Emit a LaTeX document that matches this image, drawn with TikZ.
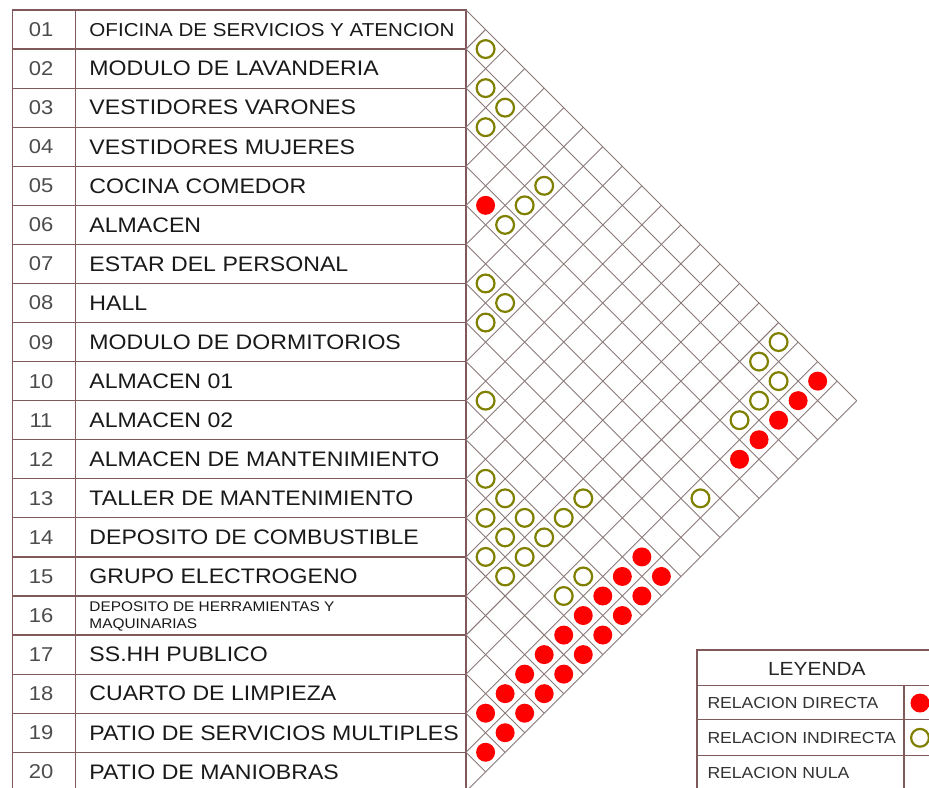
\documentclass[tikz,border=0pt]{standalone}
\usepackage{fontspec}
\setmainfont{Liberation Sans}[FakeStretch=1.1]
\definecolor{linea}{RGB}{128,90,90}
\definecolor{gris}{RGB}{138,120,120}
\definecolor{ocre}{RGB}{128,128,0}
\definecolor{rojo}{RGB}{255,0,0}
\newcommand{\celda}[2]{({(#2-#1)/2},{(#1+#2-1)/2})}

\begin{document}
\begin{tikzpicture}[x=19.535pt,y=-19.535pt,
  tabla/.style={draw=linea,line width=0.6pt},
  malla/.style={draw=gris,line width=0.45pt},
  etiq/.style={anchor=west,inner sep=0pt,text depth=0pt,text=black!90,font=\fontsize{10.5}{12}\selectfont},
  num/.style={inner sep=0pt,text depth=0pt,text=black!70,font=\fontsize{10}{12}\selectfont},
  leyenda/.style={anchor=west,inner sep=0pt,text depth=0pt,text=black!80,font=\fontsize{8}{10}\selectfont},
  directa/.style={fill=rojo},
  indirecta/.style={draw=ocre,line width=1.1pt}]
  \clip (-11.93,-0.256) rectangle (11.85,19.91);
  % tabla
  \draw[tabla] (-11.62,0) rectangle (0,20);
  \draw[tabla] (-10,0) -- (-10,20);
  \foreach \k in {1,...,19}
    \draw[tabla] (-11.62,\k) -- (0,\k);
  \foreach \i in {1,...,20}
    \node[num] (n\i) at (-10.88,\i-0.5) {\ifnum\i<10 0\fi\i};
  \node[etiq,font=\fontsize{9.35}{11}\selectfont] (e1) at (-9.65,0.5) {OFICINA DE SERVICIOS Y ATENCION};
  \foreach \i/\t in {2/MODULO DE LAVANDERIA,3/VESTIDORES VARONES,4/VESTIDORES MUJERES,
      5/COCINA COMEDOR,6/ALMACEN,7/ESTAR DEL PERSONAL,8/HALL,9/MODULO DE DORMITORIOS,
      10/ALMACEN 01,11/ALMACEN 02,12/ALMACEN DE MANTENIMIENTO,13/TALLER DE MANTENIMIENTO,
      14/DEPOSITO DE COMBUSTIBLE,15/GRUPO ELECTROGENO,17/SS.HH PUBLICO,
      18/CUARTO DE LIMPIEZA,19/PATIO DE SERVICIOS MULTIPLES,20/PATIO DE MANIOBRAS}
    \node[etiq] (e\i) at (-9.65,\i-0.5) {\t};
  \node[etiq,align=left,font=\fontsize{7}{8.5}\selectfont] (e16) at (-9.65,15.5) {DEPOSITO DE HERRAMIENTAS Y\\MAQUINARIAS};
  % matriz
  \foreach \k in {0,...,19}
    \draw[malla] (0,\k) -- ({(20-\k)/2},{(20+\k)/2});
  \foreach \k in {1,...,20}
    \draw[malla] (0,\k) -- ({\k/2},{\k/2});
  \foreach \i/\j in {5/6,1/19,2/19,3/19,4/19,5/19,10/19,10/20,11/19,11/20,12/19,12/20,
      13/19,13/20,14/19,14/20,15/19,15/20,16/19,16/20,17/19,17/20,18/19,18/20,19/20}
    \fill[directa] \celda{\i}{\j} circle (0.243);
  \foreach \i/\j in {1/2,2/3,2/4,3/4,3/7,4/7,5/7,7/8,7/9,8/9,1/17,2/17,2/18,3/18,4/18,
      10/11,12/13,12/14,10/16,7/19,13/14,12/15,11/16,13/15,12/16,14/15,13/16,14/16,12/18,13/18}
    \draw[indirecta] \celda{\i}{\j} circle (0.228);
  % leyenda
  \draw[tabla] (5.91,16.38) rectangle (12.1,21);
  \foreach \y in {17.30,18.17,19.09}
    \draw[tabla] (5.91,\y) -- (12.1,\y);
  \draw[tabla] (11.21,17.30) -- (11.21,21);
  \node[inner sep=0pt,text=black!85,font=\fontsize{9.5}{11}\selectfont] (ley) at (8.98,16.86) {LEYENDA};
  \node[leyenda] (ld) at (6.17,17.74) {RELACION DIRECTA};
  \node[leyenda] (li) at (6.17,18.63) {RELACION INDIRECTA};
  \node[leyenda] (ln) at (6.17,19.52) {RELACION NULA};
  \fill[directa] (11.62,17.74) circle (0.243);
  \draw[indirecta] (11.62,18.63) circle (0.228);
\end{tikzpicture}
\end{document}
